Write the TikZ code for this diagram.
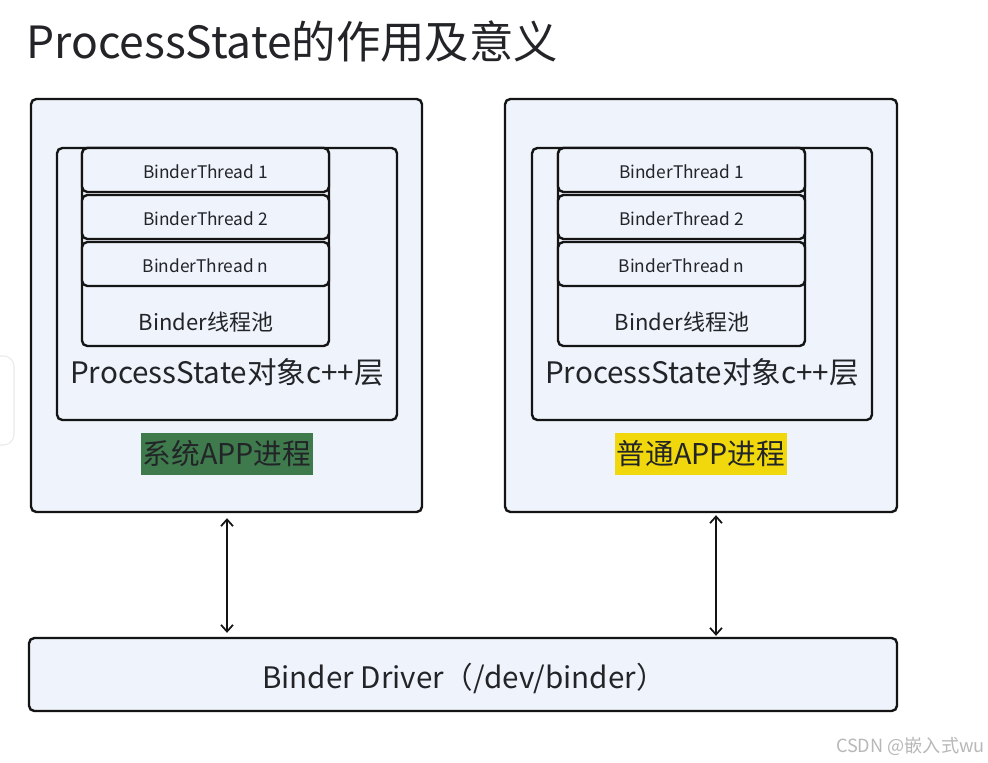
\documentclass[tikz,border=0pt]{standalone}
\usepackage{fontspec}
\newfontfamily\cjk{Noto Sans CJK SC}
\usetikzlibrary{fit,calc,arrows.meta}
\definecolor{boxfill}{HTML}{EFF3FB}
\definecolor{edge}{HTML}{141414}
\definecolor{sysgreen}{HTML}{3E7A4C}
\definecolor{appyellow}{HTML}{F0D80C}
\definecolor{txt}{HTML}{222428}
\tikzset{
  panel/.style={draw=edge, fill=boxfill, line width=1.8pt, rounded corners=4pt, inner sep=0pt},
  label/.style={font=\cjk, text=txt, inner sep=0pt},
  tag/.style={font=\cjk\fontsize{21.5}{24}\selectfont, text=txt, inner sep=0pt, minimum width=129pt, minimum height=31.5pt},
  arr/.style={line width=1.3pt, draw=edge, {Straight Barb[length=5pt,width=9pt]}-{Straight Barb[length=5pt,width=9pt]}}
}
\begin{document}
\begin{tikzpicture}[x=0.75pt,y=-0.75pt]
\path[fill=white,use as bounding box] (0,0) rectangle (988,763);
% side artifact
\draw[draw=black!8, fill=white, rounded corners=8pt, line width=0.8pt] (-20,356) rectangle (14,445);
% title
\node[label, anchor=west, font=\cjk\fontsize{33.3}{37}\selectfont] (title) at (26,42) {ProcessState的作用及意义};
% left process
\node[panel, fit={(31,99) (422,512)}] (L) {};
\node[panel, fit={(57,148) (397,420)}] (Lps) {};
\node[panel, fit={(82,148) (329,346)}] (Lpool) {};
\node[panel, fit={(82,148) (329,192)}] (Lt1) {};
\node[panel, fit={(82,195) (329,239)}] (Lt2) {};
\node[panel, fit={(82,242) (329,286)}] (Ltn) {};
\node[label, font=\cjk\fontsize{13}{15}\selectfont] at ($(Lt1)+(0,2)$) {BinderThread 1};
\node[label, font=\cjk\fontsize{13}{15}\selectfont] at ($(Lt2)+(0,2)$) {BinderThread 2};
\node[label, font=\cjk\fontsize{13}{15}\selectfont] at ($(Ltn)+(0,2)$) {BinderThread n};
\node[label, font=\cjk\fontsize{16.5}{19}\selectfont] (Lpooltxt) at (206,322) {Binder线程池};
\node[label, font=\cjk\fontsize{22.2}{25}\selectfont] (Lpstxt) at (227,372) {ProcessState对象c++层};
\node[tag, fill=sysgreen] (Ltag) at (227,454) {系统APP进程};
% right process
\node[panel, fit={(505,99) (897,512)}] (R) {};
\node[panel, fit={(532,148) (872,420)}] (Rps) {};
\node[panel, fit={(558,148) (805,346)}] (Rpool) {};
\node[panel, fit={(558,148) (805,192)}] (Rt1) {};
\node[panel, fit={(558,195) (805,239)}] (Rt2) {};
\node[panel, fit={(558,242) (805,286)}] (Rtn) {};
\node[label, font=\cjk\fontsize{13}{15}\selectfont] at ($(Rt1)+(0,2)$) {BinderThread 1};
\node[label, font=\cjk\fontsize{13}{15}\selectfont] at ($(Rt2)+(0,2)$) {BinderThread 2};
\node[label, font=\cjk\fontsize{13}{15}\selectfont] at ($(Rtn)+(0,2)$) {BinderThread n};
\node[label, font=\cjk\fontsize{16.5}{19}\selectfont] (Rpooltxt) at (682,322) {Binder线程池};
\node[label, font=\cjk\fontsize{22.2}{25}\selectfont] (Rpstxt) at (702,372) {ProcessState对象c++层};
\node[tag, fill=appyellow] (Rtag) at (701,454) {普通APP进程};
% driver
\node[panel, fit={(29,638) (897,711)}] (D) {};
\node[label, font=\cjk\fontsize{22.2}{25}\selectfont] (Dtxt) at ($(D)+(1,4)$) {Binder Driver（/dev/binder）};
% arrows
\draw[arr] ($(L.south)+(0.5,5)$) -- ($(D.north -| L.south)+(0.5,-4)$);
\draw[arr] ($(R.south)+(15,2)$) -- ($(D.north -| R.south)+(15,-1)$);
% watermark
\node[label, anchor=east, text=black!28, font=\cjk\fontsize{13.6}{15}\selectfont] (wm) at (985,746) {CSDN @嵌入式wu};
\end{tikzpicture}
\end{document}
